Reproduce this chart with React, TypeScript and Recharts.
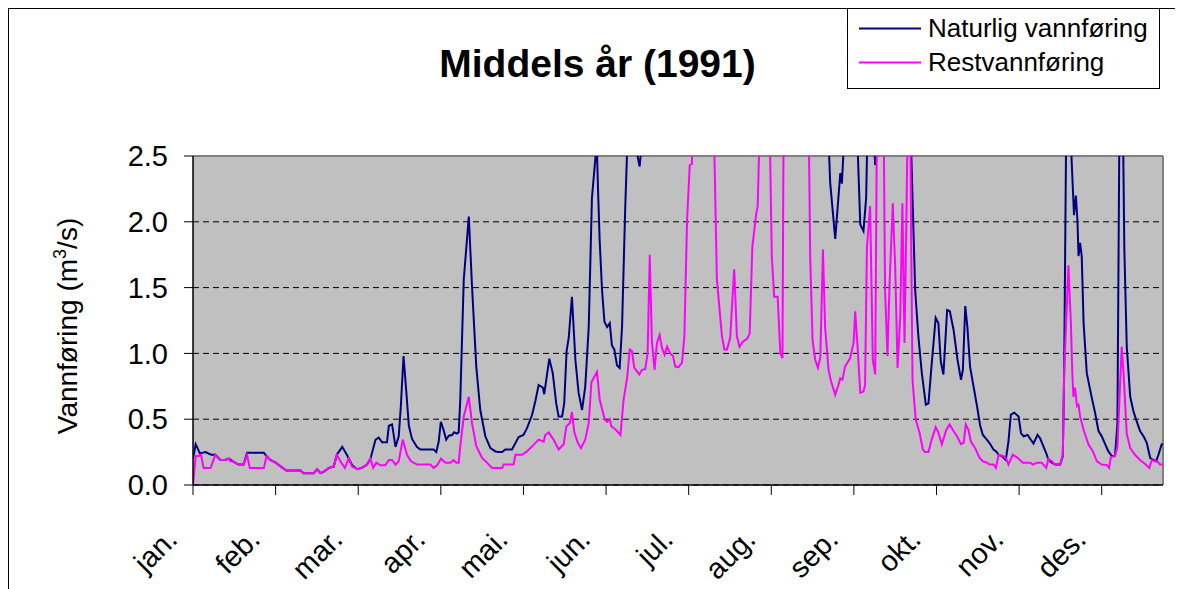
import { LineChart, Line, XAxis, YAxis, CartesianGrid, ReferenceLine, Legend } from "recharts";

const NAVY = "#000080";
const PINK = "#FF00FF";
const FONT = "'Liberation Sans', Arial, sans-serif";

const monthLabels = ["jan.", "feb.", "mar.", "apr.", "mai.", "jun.", "jul.", "aug.", "sep.", "okt.", "nov.", "des."];
const monthTicks = [0, 31, 62, 93, 124, 155, 186, 217, 248, 279, 310, 341];
const yTicks = [0, 0.5, 1, 1.5, 2, 2.5];

// [day of year, m3/s] - values above 2.5 are cut off by the plot frame
const naturlig: [number, number][] = [
  [0, 0.2], [1, 0.31], [2.6, 0.24], [4.7, 0.25], [6.8, 0.23], [8.4, 0.23], [10.3, 0.19], [12, 0.19],
  [13.4, 0.2], [15, 0.18], [17, 0.155], [19, 0.155], [20.3, 0.245], [26.6, 0.245], [27.6, 0.22], [29, 0.19],
  [31, 0.17], [33, 0.14], [35, 0.11], [40.3, 0.11], [41.5, 0.09], [45.3, 0.09], [46.6, 0.12], [47.8, 0.09],
  [49, 0.1], [51, 0.13], [52.8, 0.14], [54, 0.23], [56, 0.29], [58, 0.22], [59.7, 0.15], [61.6, 0.12],
  [63.4, 0.13], [65.3, 0.155], [66.6, 0.2], [68.5, 0.345], [69.7, 0.36], [71, 0.325], [72.8, 0.325], [73.5, 0.45],
  [74.7, 0.46], [76, 0.29], [77.2, 0.37], [78, 0.6], [79, 0.98], [80, 0.72], [81, 0.45], [82.2, 0.35],
  [84, 0.29], [85.3, 0.27], [90.3, 0.27], [91.3, 0.25], [92.2, 0.33], [93, 0.48], [94, 0.42], [95, 0.345],
  [96, 0.375], [97.2, 0.38], [98, 0.4], [99, 0.39], [99.7, 0.4], [100.3, 0.65], [101.6, 1.56], [103.5, 2.04],
  [104.7, 1.51], [106.3, 0.9], [107.8, 0.57], [109.7, 0.37], [111.6, 0.28], [113.5, 0.255], [114.7, 0.25], [116, 0.25],
  [117.2, 0.27], [119.7, 0.27], [122.2, 0.365], [124, 0.38], [125.3, 0.43], [127.2, 0.53], [128.5, 0.64], [129.7, 0.76],
  [131.3, 0.74], [131.8, 0.69], [133.7, 0.96], [135, 0.85], [136.3, 0.62], [137.2, 0.52], [138.5, 0.52], [139.3, 0.62],
  [140.2, 1.02], [141, 1.12], [142.2, 1.43], [143.5, 0.95], [144.7, 0.7], [146, 0.57], [147.2, 0.75], [148.5, 1.2],
  [149.7, 2.18], [151.5, 2.6], [152, 2.24], [152.6, 1.86], [153.5, 1.48], [154.4, 1.24], [155.4, 1.2], [156.4, 1.23],
  [157.2, 1.06], [158.1, 1.03], [159.1, 0.91], [160.1, 0.89], [161, 1.2], [162.2, 2.11], [163.5, 2.9], [165, 3.0],
  [166.3, 2.55], [167.6, 2.42], [168.4, 2.6], [175, 4.0], [190, 6.0], [210, 5.0], [225, 4.0], [238, 2.9],
  [239.1, 2.3], [241, 1.87], [242.9, 2.37], [243.5, 2.29], [245, 2.9], [249, 2.8], [250.4, 1.98], [251.6, 1.93],
  [252.6, 2.18], [253.3, 2.9], [255.3, 2.7], [256, 2.43], [256.7, 2.7], [262, 4.0], [269, 2.9], [271, 1.48],
  [272.2, 1.13], [273.5, 0.85], [275, 0.61], [276, 0.62], [277.2, 0.92], [278.7, 1.27], [279.7, 1.23], [280.6, 0.94],
  [281.6, 0.84], [283, 1.33], [284, 1.32], [285.4, 1.18], [286.9, 0.95], [288.2, 0.8], [288.9, 0.875], [289.8, 1.36],
  [290.6, 1.2], [291.6, 0.9], [292.9, 0.75], [294.2, 0.6], [295.4, 0.45], [296.4, 0.38], [297.9, 0.345], [299.2, 0.31],
  [300.4, 0.27], [301.4, 0.255], [302.3, 0.23], [303.5, 0.22], [305, 0.19], [306, 0.33], [306.9, 0.535], [308.2, 0.55],
  [309.8, 0.52], [310.7, 0.395], [311.7, 0.37], [313.2, 0.38], [314.2, 0.35], [315.4, 0.315], [316.9, 0.38], [317.9, 0.355],
  [319.2, 0.29], [320.4, 0.23], [321, 0.19], [322.3, 0.17], [323.5, 0.155], [325.4, 0.155], [326.4, 0.22], [326.9, 0.85],
  [327.8, 3.0], [329, 2.8], [330.2, 2.24], [330.6, 2.05], [331.3, 2.2], [331.9, 2.01], [332.3, 1.74], [332.9, 1.84],
  [333.5, 1.74], [334.2, 1.23], [335.4, 0.85], [337.3, 0.66], [338.5, 0.55], [339.8, 0.41], [341, 0.37], [342.3, 0.31],
  [343.5, 0.255], [344.8, 0.22], [346, 0.22], [346.9, 0.47], [347.8, 3.2], [348.7, 3.2], [349.5, 1.79], [350.4, 1.05],
  [351.7, 0.67], [352.9, 0.56], [354.2, 0.48], [355.4, 0.41], [356.7, 0.37], [357.9, 0.32], [359.2, 0.205], [360.4, 0.19],
  [361.4, 0.18], [362.3, 0.23], [363.5, 0.31], [364, 0.31],
];

const restvann: [number, number][] = [
  [0, 0], [1, 0.22], [2, 0.22], [3, 0.23], [4, 0.13], [6.6, 0.13], [8.4, 0.23], [10.3, 0.19],
  [12, 0.19], [13.4, 0.2], [14, 0.18], [15, 0.18], [17, 0.155], [19, 0.155], [20.3, 0.23], [21.3, 0.13],
  [26.6, 0.13], [27.6, 0.22], [29, 0.19], [31, 0.17], [33, 0.14], [35, 0.11], [40.3, 0.11], [41.5, 0.09],
  [45.3, 0.09], [46.6, 0.12], [47.8, 0.09], [49, 0.1], [51, 0.13], [52.8, 0.14], [54, 0.23], [55.6, 0.17],
  [57, 0.13], [58.4, 0.2], [59.7, 0.14], [61.6, 0.12], [63.4, 0.13], [65.3, 0.155], [66.6, 0.2], [67.6, 0.13],
  [68.8, 0.17], [70.3, 0.15], [72.2, 0.15], [73.5, 0.19], [74.7, 0.19], [76, 0.155], [77.2, 0.18], [78.7, 0.345],
  [80.3, 0.23], [81.8, 0.18], [84.1, 0.155], [89.1, 0.155], [90.3, 0.13], [91.6, 0.15], [93.1, 0.2], [94.7, 0.17],
  [96.6, 0.17], [97.8, 0.19], [98.8, 0.17], [99.7, 0.17], [100.3, 0.295], [101.6, 0.52], [103.5, 0.67], [104.7, 0.47],
  [106.3, 0.295], [108.5, 0.205], [110.3, 0.17], [112.2, 0.13], [116, 0.13], [116.6, 0.155], [120.3, 0.155], [121, 0.23],
  [123.5, 0.23], [125.3, 0.255], [127.8, 0.305], [129.7, 0.345], [131.6, 0.33], [132.2, 0.38], [133.5, 0.4], [135.3, 0.345],
  [137.2, 0.27], [139.1, 0.31], [140.1, 0.445], [141.4, 0.47], [142.2, 0.555], [143.1, 0.4], [144.4, 0.32], [145.6, 0.28],
  [147.2, 0.345], [148.5, 0.47], [149.5, 0.78], [151.6, 0.86], [152.6, 0.65], [154.5, 0.5], [155.4, 0.48], [156.4, 0.5],
  [157, 0.445], [158.1, 0.43], [159.1, 0.41], [160.4, 0.38], [161.6, 0.65], [162.9, 0.81], [163.9, 1.03], [164.7, 1.02],
  [165.6, 0.89], [167.5, 0.84], [168.5, 0.875], [169.7, 0.88], [170.6, 1.0], [171.4, 1.75], [172.2, 1.09], [173.2, 0.875],
  [174.1, 1.08], [175.1, 1.14], [176, 1.04], [177, 0.99], [177.9, 1.05], [179.1, 1.0], [180.1, 0.98], [181, 0.9],
  [182.2, 0.895], [183.5, 0.93], [184.4, 1.13], [185.4, 2.01], [186.4, 2.43], [187.2, 2.44], [188.3, 3.0], [192, 4.0],
  [195, 3.2], [196.6, 1.56], [198.5, 1.13], [199.4, 1.03], [200.4, 1.03], [201.6, 1.12], [202.4, 1.41], [203.1, 1.64],
  [204.1, 1.13], [205.1, 1.05], [206.4, 1.09], [207.9, 1.11], [208.9, 1.15], [209.9, 1.81], [211.3, 2.05], [211.9, 2.12],
  [212.9, 2.9], [216, 3.2], [217.2, 1.74], [218.1, 1.43], [219.4, 1.43], [220.4, 1.0], [221.2, 0.965], [221.8, 3.5],
  [226, 4.0], [230.8, 3.2], [231.6, 1.74], [232.5, 1.1], [233.5, 0.95], [234.5, 0.89], [235.4, 0.97], [236.4, 1.79],
  [237.2, 1.2], [238.5, 0.875], [239.4, 0.79], [241, 0.685], [242.2, 0.76], [242.9, 0.81], [243.7, 0.8], [244.7, 0.9],
  [246.6, 0.965], [247.9, 1.08], [248.5, 1.32], [249.4, 1.05], [250.4, 0.7], [251.6, 0.71], [252.2, 0.76], [252.9, 1.81],
  [254.1, 2.12], [255.1, 0.95], [256, 0.84], [256.8, 3.2], [259, 3.2], [259.7, 1.48], [260.6, 0.98], [261.4, 1.53],
  [262.6, 2.14], [263.5, 1.66], [264.4, 0.89], [265.4, 1.28], [266.2, 2.14], [267, 1.08], [267.6, 1.86], [268.5, 3.2],
  [269, 3.2], [269.5, 1.86], [270, 0.8], [271.2, 0.5], [272.6, 0.4], [273.9, 0.27], [274.7, 0.25], [276, 0.25],
  [277.2, 0.345], [278.7, 0.44], [279.7, 0.4], [281, 0.31], [282.7, 0.42], [283.9, 0.46], [285.4, 0.41], [286.7, 0.37],
  [288.2, 0.31], [289.2, 0.32], [290, 0.46], [291, 0.42], [291.9, 0.33], [293.5, 0.28], [295.2, 0.205], [296.4, 0.18],
  [297.9, 0.17], [298.9, 0.155], [300.4, 0.155], [301.3, 0.13], [302.3, 0.23], [304.2, 0.22], [305.2, 0.2], [306, 0.155],
  [307.6, 0.23], [309.2, 0.21], [311.4, 0.17], [314.2, 0.17], [315.2, 0.155], [316.7, 0.17], [318.5, 0.17], [320.2, 0.13],
  [321, 0.2], [322.3, 0.18], [323.5, 0.155], [325.4, 0.155], [326.4, 0.23], [326.9, 0.85], [328.5, 1.67], [329.4, 1.25],
  [330, 0.83], [330.4, 0.67], [331, 0.74], [331.7, 0.6], [332.3, 0.61], [332.9, 0.52], [334.2, 0.42], [336, 0.31],
  [337.7, 0.255], [339.2, 0.18], [341, 0.155], [343, 0.15], [343.8, 0.13], [344.4, 0.21], [346, 0.22], [346.9, 0.29],
  [348.5, 1.05], [349.2, 0.85], [350.4, 0.39], [351.7, 0.28], [353.5, 0.23], [355.4, 0.19], [357.3, 0.16], [358.9, 0.13],
  [359.8, 0.19], [361, 0.18], [361.9, 0.18], [362.9, 0.155], [364, 0.155],
];

const toRows = (pts: [number, number][]) => pts.map(([d, v]) => ({ d, v }));

const MonthTick = (props: any) => {
  const { x, y, payload } = props;
  const i = monthTicks.indexOf(payload.value);
  return (
    <g transform={`translate(${x - 14},${y + 46}) rotate(-45)`}>
      <text x={0} y={0} textAnchor="end" fontSize={29} fill="#000" fontFamily={FONT}>
        {monthLabels[i]}
      </text>
    </g>
  );
};

const AxisTitle = () => (
  <text x={68} y={317} transform="rotate(-90, 68, 317)" textAnchor="middle" fontSize={28} fill="#000" fontFamily={FONT}>
    Vannføring (m<tspan dy={-11} fontSize={18}>3</tspan><tspan dy={11}>/s)</tspan>
  </text>
);

const LegendBox = () => (
  <svg width={314} height={82} style={{ display: "block" }}>
    <rect x={0.5} y={0.5} width={312} height={80} fill="#fff" stroke="#000" />
    <line x1={12} x2={74} y1={20.5} y2={20.5} stroke={NAVY} strokeWidth={2} />
    <line x1={12} x2={74} y1={54.5} y2={54.5} stroke={PINK} strokeWidth={2} />
    <text x={81} y={29} fontSize={26} fill="#000" fontFamily={FONT}>Naturlig vannføring</text>
    <text x={81} y={63} fontSize={26} fill="#000" fontFamily={FONT}>Restvannføring</text>
  </svg>
);

export default function App() {
  return (
    <div
      style={{
        position: "relative",
        width: 1167,
        height: 600,
        boxSizing: "border-box",
        borderTop: "1px solid #000",
        borderLeft: "1px solid #000",
        fontFamily: FONT,
        background: "#fff",
      }}
    >
      <style>{"html,body{overflow:hidden}"}</style>
      <svg width={1166} height={100} style={{ position: "absolute", left: 0, top: 0 }}>
        <text x={588.5} y={68} textAnchor="middle" fontSize={39} fontWeight="bold" fill="#000" fontFamily={FONT}>
          Middels år (1991)
        </text>
      </svg>
      <LineChart width={1166} height={580} margin={{ top: 147, right: 12, bottom: 24, left: 0 }}>
        <CartesianGrid fill="#C0C0C0" fillOpacity={1} vertical={false} stroke="#000" strokeDasharray="6 4" />
        <XAxis
          type="number"
          dataKey="d"
          domain={[0, 364]}
          ticks={monthTicks}
          interval={0}
          allowDataOverflow
          height={80}
          tickSize={10}
          tickMargin={0}
          tick={<MonthTick />}
          axisLine={{ stroke: "#000", strokeWidth: 1.5 }}
          tickLine={{ stroke: "#000" }}
        />
        <YAxis
          type="number"
          domain={[0, 2.5]}
          ticks={yTicks}
          allowDataOverflow
          width={184}
          tickSize={9}
          tickMargin={16}
          tickFormatter={(v: number) => v.toFixed(1)}
          tick={{ fill: "#000", fontSize: 29, fontFamily: FONT }}
          axisLine={{ stroke: "#000", strokeWidth: 1.5 }}
          tickLine={{ stroke: "#000" }}
          label={<AxisTitle />}
        />
        <ReferenceLine y={2.5} stroke="#808080" strokeWidth={2} />
        <ReferenceLine x={364} stroke="#808080" strokeWidth={2} />
        <Legend
          layout="horizontal"
          verticalAlign="middle"
          align="center"
          content={<LegendBox />}
          wrapperStyle={{ position: "absolute", left: 838, top: -1, width: 314, height: 82 }}
        />
        <Line
          data={toRows(naturlig)}
          dataKey="v"
          name="Naturlig vannføring"
          type="linear"
          stroke={NAVY}
          strokeWidth={2}
          dot={false}
          isAnimationActive={false}
        />
        <Line
          data={toRows(restvann)}
          dataKey="v"
          name="Restvannføring"
          type="linear"
          stroke={PINK}
          strokeWidth={2}
          dot={false}
          isAnimationActive={false}
        />
      </LineChart>
    </div>
  );
}
